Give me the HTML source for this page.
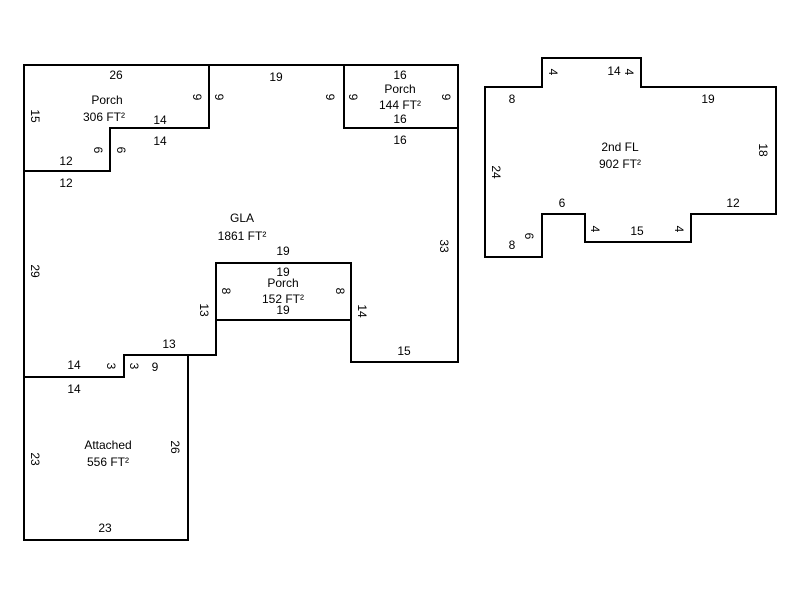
<!DOCTYPE html>
<html><head><style>body{margin:0;background:#fff}svg{display:block}text{font-family:"Liberation Sans",Arial,sans-serif;font-size:12px;fill:#000;text-anchor:middle;dominant-baseline:central}</style></head>
<body>
<svg width="800" height="600" viewBox="0 0 800 600">
<g fill="none" stroke="#000" stroke-width="2">
<path d="M24,65 H458 V362 H351 V320 H216 V355 H124 V377 H24 Z"/>
<path d="M24,65 H209 V128 H110 V171 H24"/>
<path d="M344,65 V128 H458"/>
<rect x="216" y="263" width="135" height="57"/>
<path d="M24,377 V540 H188 V355"/>
<path d="M485,87 H542 V58 H641 V87 H776 V214 H691 V242 H585 V214 H542 V257 H485 Z"/>
</g>
<text x="116" y="75">26</text>
<text x="107" y="100">Porch</text>
<text x="104" y="117">306 FT²</text>
<text x="160" y="120">14</text>
<text x="160" y="141">14</text>
<text x="66" y="161">12</text>
<text x="66" y="183">12</text>
<text x="276" y="77">19</text>
<text x="400" y="75">16</text>
<text x="400" y="89">Porch</text>
<text x="400" y="105">144 FT²</text>
<text x="400" y="119">16</text>
<text x="400" y="140">16</text>
<text x="242" y="218">GLA</text>
<text x="242" y="236">1861 FT²</text>
<text x="283" y="251">19</text>
<text x="283" y="272">19</text>
<text x="283" y="283">Porch</text>
<text x="283" y="299">152 FT²</text>
<text x="283" y="310">19</text>
<text x="169" y="344">13</text>
<text x="404" y="351">15</text>
<text x="74" y="365">14</text>
<text x="155" y="367">9</text>
<text x="74" y="389">14</text>
<text x="108" y="445">Attached</text>
<text x="108" y="462">556 FT²</text>
<text x="105" y="528">23</text>
<text x="614" y="71">14</text>
<text x="512" y="99">8</text>
<text x="708" y="99">19</text>
<text x="620" y="147">2nd FL</text>
<text x="620" y="164">902 FT²</text>
<text x="562" y="203">6</text>
<text x="733" y="203">12</text>
<text x="637" y="231">15</text>
<text x="512" y="245">8</text>
<g>
<text transform="translate(35,116) rotate(90)">15</text>
<text transform="translate(197,97) rotate(90)">9</text>
<text transform="translate(219,97) rotate(90)">9</text>
<text transform="translate(98,150) rotate(90)">6</text>
<text transform="translate(121,150) rotate(90)">6</text>
<text transform="translate(330,97) rotate(90)">9</text>
<text transform="translate(353,97) rotate(90)">9</text>
<text transform="translate(446,97) rotate(90)">9</text>
<text transform="translate(35,271) rotate(90)">29</text>
<text transform="translate(444,246) rotate(90)">33</text>
<text transform="translate(204,310) rotate(90)">13</text>
<text transform="translate(226,291) rotate(90)">8</text>
<text transform="translate(340,291) rotate(90)">8</text>
<text transform="translate(362,311) rotate(90)">14</text>
<text transform="translate(111,366) rotate(90)">3</text>
<text transform="translate(134,366) rotate(90)">3</text>
<text transform="translate(35,459) rotate(90)">23</text>
<text transform="translate(175,447) rotate(90)">26</text>
<text transform="translate(553,72) rotate(90)">4</text>
<text transform="translate(629,72) rotate(90)">4</text>
<text transform="translate(496,172) rotate(90)">24</text>
<text transform="translate(763,150) rotate(90)">18</text>
<text transform="translate(529,236) rotate(90)">6</text>
<text transform="translate(595,229) rotate(90)">4</text>
<text transform="translate(679,229) rotate(90)">4</text>
</g>
</svg>
</body></html>
